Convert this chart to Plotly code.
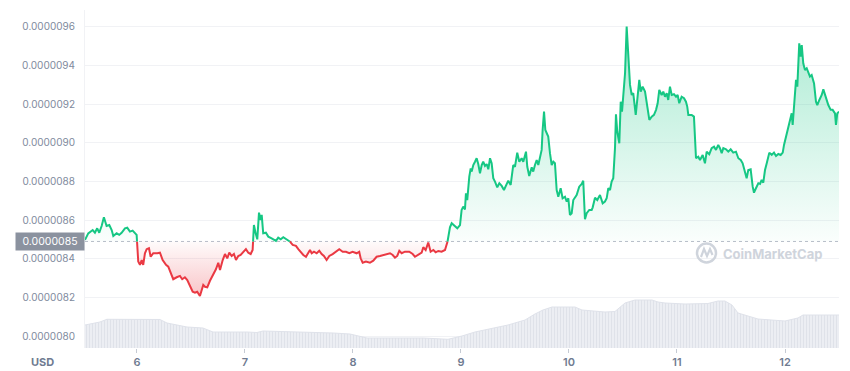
import plotly.graph_objects as go

# ---------------- data ----------------
days = [5.519, 5.549, 5.590, 5.611, 5.632, 5.651, 5.673, 5.694, 5.719, 5.744, 5.766, 5.781, 5.812, 5.836, 5.858,
        5.889, 5.910, 5.935, 5.960, 5.981, 5.997, 6.012, 6.028, 6.044, 6.058, 6.074, 6.090, 6.111, 6.127, 6.151,
        6.188, 6.213, 6.238, 6.269, 6.290, 6.312, 6.336, 6.368, 6.398, 6.419, 6.444, 6.466, 6.491, 6.516, 6.537,
        6.558, 6.583, 6.599, 6.614, 6.630, 6.651, 6.676, 6.706, 6.731, 6.753, 6.769, 6.794, 6.815, 6.836, 6.855,
        6.877, 6.898, 6.917, 6.938, 6.960, 6.984, 7.009, 7.031, 7.053, 7.071, 7.083, 7.099, 7.114, 7.130, 7.145,
        7.155, 7.169, 7.194, 7.216, 7.247, 7.269, 7.287, 7.308, 7.331, 7.355, 7.386, 7.417, 7.442, 7.472, 7.494,
        7.516, 7.540, 7.565, 7.586, 7.602, 7.618, 7.639, 7.664, 7.688, 7.710, 7.731, 7.756, 7.781, 7.812, 7.843,
        7.873, 7.905, 7.935, 7.966, 7.997, 8.034, 8.058, 8.071, 8.090, 8.120, 8.157, 8.188, 8.219, 8.250, 8.287,
        8.312, 8.343, 8.368, 8.389, 8.410, 8.429, 8.451, 8.481, 8.521, 8.553, 8.574, 8.605, 8.636, 8.651, 8.673,
        8.697, 8.719, 8.744, 8.766, 8.790, 8.821, 8.852, 8.873, 8.898, 8.914, 8.944, 8.966, 8.991, 9.006, 9.021,
        9.037, 9.046, 9.058, 9.077, 9.090, 9.099, 9.114, 9.130, 9.145, 9.160, 9.176, 9.192, 9.206, 9.222, 9.238,
        9.253, 9.269, 9.284, 9.299, 9.315, 9.336, 9.355, 9.377, 9.398, 9.417, 9.438, 9.460, 9.484, 9.500, 9.521,
        9.540, 9.562, 9.577, 9.602, 9.614, 9.632, 9.655, 9.669, 9.685, 9.701, 9.716, 9.731, 9.747, 9.756, 9.769,
        9.781, 9.794, 9.808, 9.824, 9.840, 9.855, 9.870, 9.886, 9.901, 9.923, 9.941, 9.963, 9.979, 9.994, 10.009,
        10.025, 10.040, 10.071, 10.095, 10.118, 10.132, 10.148, 10.164, 10.188, 10.210, 10.219, 10.241, 10.262,
        10.287, 10.312, 10.333, 10.349, 10.364, 10.380, 10.395, 10.410, 10.426, 10.435, 10.447, 10.466, 10.479,
        10.491, 10.503, 10.519, 10.534, 10.549, 10.565, 10.581, 10.595, 10.618, 10.633, 10.651, 10.664, 10.682,
        10.704, 10.725, 10.744, 10.766, 10.787, 10.806, 10.821, 10.836, 10.858, 10.873, 10.889, 10.905, 10.919,
        10.935, 10.951, 10.972, 10.991, 11.006, 11.021, 11.043, 11.065, 11.083, 11.095, 11.105, 11.136, 11.157,
        11.176, 11.197, 11.213, 11.238, 11.259, 11.275, 11.299, 11.321, 11.343, 11.361, 11.382, 11.398, 11.414,
        11.429, 11.454, 11.475, 11.497, 11.521, 11.546, 11.568, 11.590, 11.608, 11.630, 11.645, 11.660, 11.682,
        11.701, 11.713, 11.731, 11.753, 11.769, 11.784, 11.799, 11.815, 11.831, 11.855, 11.877, 11.898, 11.917,
        11.938, 11.960, 11.979, 11.991, 12.009, 12.031, 12.046, 12.062, 12.071, 12.083, 12.102, 12.114, 12.123,
        12.132, 12.145, 12.155, 12.169, 12.185, 12.201, 12.216, 12.231, 12.247, 12.269, 12.287, 12.299, 12.318,
        12.340, 12.355, 12.370, 12.386, 12.401, 12.423, 12.441, 12.463, 12.472, 12.484, 12.500]

# price in millionths of a USD
price_micro = [8.498, 8.532, 8.549, 8.535, 8.558, 8.535, 8.570, 8.615, 8.570, 8.575, 8.549, 8.518, 8.532, 8.524, 8.535,
               8.558, 8.561, 8.541, 8.546, 8.532, 8.524, 8.386, 8.369, 8.394, 8.369, 8.429, 8.450, 8.455, 8.411, 8.429,
               8.429, 8.432, 8.394, 8.369, 8.360, 8.326, 8.295, 8.305, 8.312, 8.295, 8.305, 8.291, 8.256, 8.230, 8.225,
               8.230, 8.208, 8.239, 8.265, 8.256, 8.253, 8.287, 8.317, 8.346, 8.380, 8.343, 8.394, 8.425, 8.403, 8.432,
               8.415, 8.425, 8.394, 8.415, 8.420, 8.437, 8.450, 8.432, 8.425, 8.446, 8.575, 8.532, 8.501, 8.639, 8.601,
               8.627, 8.532, 8.535, 8.515, 8.506, 8.498, 8.493, 8.510, 8.501, 8.512, 8.501, 8.489, 8.472, 8.467, 8.450,
               8.437, 8.420, 8.411, 8.429, 8.446, 8.429, 8.437, 8.429, 8.442, 8.425, 8.415, 8.394, 8.415, 8.425, 8.437,
               8.450, 8.437, 8.437, 8.429, 8.437, 8.429, 8.437, 8.403, 8.380, 8.386, 8.380, 8.391, 8.411, 8.415, 8.420,
               8.425, 8.429, 8.420, 8.406, 8.415, 8.442, 8.429, 8.437, 8.437, 8.425, 8.411, 8.420, 8.432, 8.460, 8.446,
               8.484, 8.437, 8.446, 8.434, 8.441, 8.437, 8.446, 8.481, 8.563, 8.584, 8.566, 8.558, 8.575, 8.653, 8.670,
               8.656, 8.739, 8.704, 8.825, 8.868, 8.851, 8.885, 8.902, 8.920, 8.890, 8.842, 8.885, 8.902, 8.880, 8.890,
               8.863, 8.920, 8.894, 8.817, 8.799, 8.770, 8.791, 8.777, 8.756, 8.782, 8.804, 8.782, 8.885, 8.876, 8.949,
               8.902, 8.920, 8.902, 8.954, 8.876, 8.828, 8.873, 8.851, 8.885, 8.911, 8.885, 8.920, 8.963, 9.066, 9.161,
               9.066, 9.052, 9.032, 8.946, 8.885, 8.902, 8.894, 8.756, 8.721, 8.765, 8.713, 8.721, 8.696, 8.713, 8.627,
               8.636, 8.704, 8.730, 8.773, 8.787, 8.804, 8.605, 8.636, 8.653, 8.653, 8.665, 8.716, 8.704,
               8.730, 8.687, 8.696, 8.713, 8.765, 8.756, 8.799, 8.817, 8.972, 9.147, 9.057, 8.997, 9.212,
               9.161, 9.247, 9.359, 9.600, 9.419, 9.299, 9.247, 9.256, 9.144, 9.247, 9.325, 9.264, 9.290,
               9.264, 9.195, 9.118, 9.135, 9.144, 9.170, 9.204, 9.273, 9.247, 9.264, 9.238, 9.256, 9.221,
               9.290, 9.247, 9.251, 9.238, 9.247, 9.204, 9.238, 9.230, 9.212, 9.187, 9.144, 9.144, 9.135,
               8.920, 8.928, 8.911, 8.937, 8.894, 8.954, 8.941, 8.972, 8.980, 8.963, 8.989, 8.972, 8.946,
               8.972, 8.966, 8.954, 8.966, 8.949, 8.954, 8.920, 8.911, 8.894, 8.842, 8.817, 8.859, 8.863,
               8.773, 8.742, 8.765, 8.791, 8.787, 8.808, 8.794, 8.859, 8.894, 8.949, 8.937, 8.949, 8.932,
               8.942, 8.937, 8.949, 8.989, 9.032, 9.083, 9.127, 9.152, 9.092, 9.204, 9.325, 9.290, 9.411,
               9.514, 9.445, 9.505, 9.411, 9.376, 9.385, 9.359, 9.342, 9.350, 9.307, 9.212, 9.195, 9.221,
               9.247, 9.276, 9.247, 9.230, 9.195, 9.170, 9.170, 9.152, 9.092, 9.152, 9.161]

baseline_micro = 8.49          # reference (opening) price, shown as 0.0000085
baseline_label = "0.0000085"

vol_days = [5.519, 5.657, 5.722, 6.213, 6.278, 6.463, 6.611, 6.704, 7.019, 7.111, 7.167, 7.444, 7.815, 7.972,
            8.130, 8.648, 8.880, 9.009, 9.130, 9.435, 9.593, 9.685, 9.759, 9.843, 10.056, 10.120, 10.333, 10.426,
            10.519, 10.611, 10.769, 10.824, 10.889, 11.074, 11.287, 11.380, 11.444, 11.509, 11.565, 11.750,
            12.000, 12.120, 12.167, 12.500]
volume_m = [2.3, 2.6, 2.87, 2.85, 2.5, 2.1, 2.0, 1.6, 1.6, 1.55, 1.7, 1.63, 1.5, 1.4,
            1.0, 1.0, 0.87, 1.2, 1.6, 2.3, 2.8, 3.4, 3.8, 4.1, 4.1, 3.8, 3.6, 3.65,
            4.5, 4.8, 4.8, 4.6, 4.5, 4.4, 4.45, 4.7, 4.7, 4.3, 3.5, 2.9,
            2.7, 3.0, 3.3, 3.3]

y_ticks_micro = [8.0, 8.2, 8.4, 8.6, 8.8, 9.0, 9.2, 9.4, 9.6]
x_ticks = [6, 7, 8, 9, 10, 11, 12]
x_tick_labels = ["6", "7", "8", "9", "10", "11", "12"]

# ---------------- derived series ----------------
price = [p * 1e-6 for p in price_micro]
base = baseline_micro * 1e-6

xs, ys = [], []
for i in range(len(days)):
    x0, y0 = days[i], price[i]
    xs.append(x0); ys.append(y0)
    if i + 1 < len(days):
        x1, y1 = days[i + 1], price[i + 1]
        if (y0 - base) * (y1 - base) < 0:
            t = (base - y0) / (y1 - y0)
            xs.append(x0 + t * (x1 - x0)); ys.append(base)

green_y = [y if y >= base else None for y in ys]
red_y = [y if y <= base else None for y in ys]
upper = [max(y, base) for y in ys]
lower = [min(y, base) for y in ys]

GREEN = "#16c784"
RED = "#ea3943"
FONT = "Inter"

# layout geometry (pixels)
W, H = 850, 371
ML, MR, MT, MB = 85, 11, 10, 23
PW, PH = W - ML - MR, H - MT - MB


def px(xp):
    return (xp - ML) / PW


def py(yp):
    return (H - MB - yp) / PH


fig = go.Figure()

# volume (background)
fig.add_trace(go.Scatter(
    x=vol_days, y=volume_m, yaxis="y2", mode="lines",
    line=dict(color="#dfe2ea", width=1),
    fill="tozeroy", fillcolor="#e6e9ef",
    fillpattern=dict(shape="|", fgcolor="#cfd4df", bgcolor="#eceef3", size=3, solidity=0.3),
    hoverinfo="skip", showlegend=False))

# green area
fig.add_trace(go.Scatter(x=[xs[0], xs[-1]], y=[base, base], mode="lines",
                         line=dict(width=0, color="rgba(0,0,0,0)"), hoverinfo="skip", showlegend=False))
fig.add_trace(go.Scatter(x=xs, y=upper, mode="none", fill="tonexty",
                         fillgradient=dict(type="vertical", start=base, stop=9.6e-6,
                                           colorscale=[[0, "rgba(22,199,132,0.02)"], [1, "rgba(22,199,132,0.36)"]]),
                         hoverinfo="skip", showlegend=False))
# red area
fig.add_trace(go.Scatter(x=[xs[0], xs[-1]], y=[base, base], mode="lines",
                         line=dict(width=0, color="rgba(0,0,0,0)"), hoverinfo="skip", showlegend=False))
fig.add_trace(go.Scatter(x=xs, y=lower, mode="none", fill="tonexty",
                         fillgradient=dict(type="vertical", start=8.2e-6, stop=base,
                                           colorscale=[[0, "rgba(234,57,67,0.30)"], [1, "rgba(234,57,67,0.02)"]]),
                         hoverinfo="skip", showlegend=False))

# lines
fig.add_trace(go.Scatter(x=xs, y=red_y, mode="lines", line=dict(color=RED, width=2),
                         connectgaps=False, showlegend=False))
fig.add_trace(go.Scatter(x=xs, y=green_y, mode="lines", line=dict(color=GREEN, width=2),
                         connectgaps=False, showlegend=False))

shapes = [
    dict(type="line", xref="paper", x0=0, x1=1, yref="y", y0=base, y1=base,
         line=dict(color="#b8bec9", width=1, dash="dot"), layer="below"),
    # watermark logo ring
    dict(type="circle", xref="paper", yref="paper",
         x0=px(697), x1=px(716), y0=py(262.5), y1=py(243.5),
         line=dict(color="#cfd4dc", width=2.5), layer="above"),
    dict(type="path", xref="paper", yref="paper",
         path=f"M {px(701)},{py(257)} L {px(704)},{py(249)} L {px(707)},{py(256)} L {px(710)},{py(249)} L {px(712.5)},{py(255)}",
         line=dict(color="#cfd4dc", width=2.2), layer="above"),
]

annotations = [
    dict(text=baseline_label, xref="paper", x=0, xanchor="right", yref="y", y=base, yanchor="middle",
         showarrow=False, bgcolor="#8b929f", borderpad=2, width=64,
         font=dict(family=FONT, size=10.5, color="white")),
    dict(text="USD", xref="paper", x=px(42), xanchor="center", yref="paper", y=py(362), yanchor="middle",
         showarrow=False, font=dict(family=FONT, size=11, color="#6f7b91", weight=700)),
    dict(text="CoinMarketCap", xref="paper", x=px(721), xanchor="left", yref="paper", y=py(253.5),
         yanchor="middle", showarrow=False, font=dict(family=FONT, size=13, color="#cfd4dc", weight=700)),
]

fig.update_layout(
    width=W, height=H,
    margin=dict(l=ML, r=MR, t=MT, b=MB, pad=0, autoexpand=False),
    paper_bgcolor="white", plot_bgcolor="white",
    font=dict(family=FONT),
    showlegend=False,
    hovermode=False,
    xaxis=dict(range=[5.519, 12.5], tickmode="array", tickvals=x_ticks, ticktext=x_tick_labels,
               showgrid=False, zeroline=False, showline=False, automargin=False,
               ticks="outside", ticklen=4, tickcolor="#c5cad3",
               tickfont=dict(family=FONT, size=11, color="#6f7b91", weight=600)),
    yaxis=dict(range=[7.9395e-6, 9.686e-6], tickmode="array",
               tickvals=[v * 1e-6 for v in y_ticks_micro],
               ticktext=[f"{v * 1e-6:.7f}" for v in y_ticks_micro],
               showgrid=True, gridcolor="#f1f2f5", gridwidth=1, zeroline=False, automargin=False,
               showline=True, linecolor="#f1f2f5", ticks="", ticklabelstandoff=7,
               tickfont=dict(family=FONT, size=10, color="#808a9d")),
    yaxis2=dict(range=[0, 33.8], overlaying="y", visible=False, showgrid=False),
    shapes=shapes,
    annotations=annotations,
)

fig.write_html("out.html", config={"displayModeBar": False, "staticPlot": True},
               post_script="document.body.style.margin='0';document.body.style.overflow='hidden';")
